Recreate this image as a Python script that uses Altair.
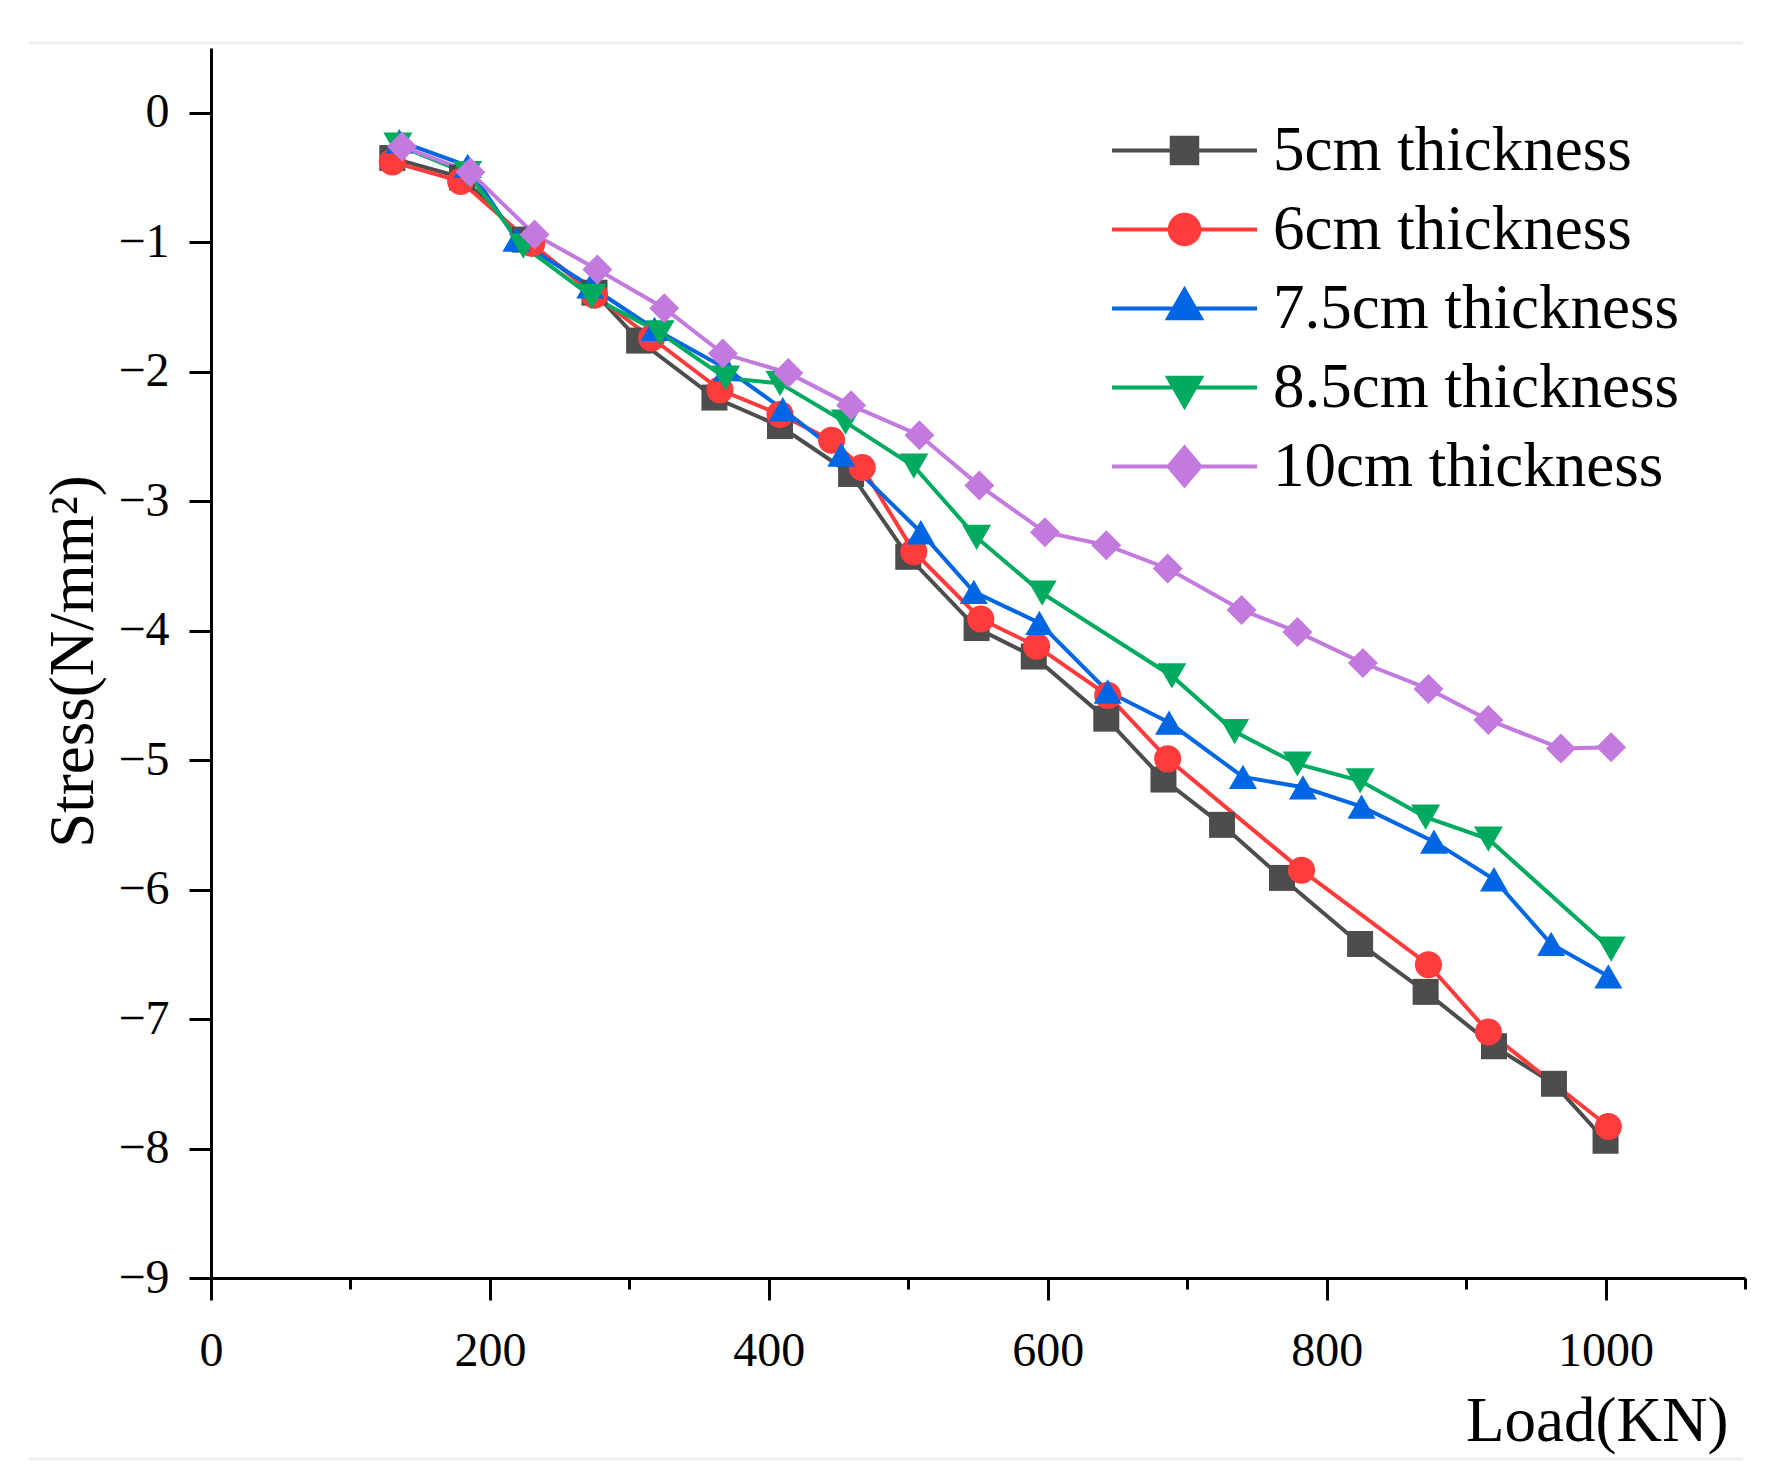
import altair as alt
import pandas as pd

series = ["5cm thickness", "6cm thickness", "7.5cm thickness", "8.5cm thickness", "10cm thickness"]
colors = ["#4d4d4d", "#ff3b3b", "#0066e3", "#00ab5f", "#c27adf"]
markers = ["square", "circle", "triangle-up", "triangle-down", "diamond"]
marker_sizes = [676, 900, 1089, 1089, 1225]

# legend symbols: a line segment with the marker on it
legend_paths = [
    "M-5,0H5M-0.88,-0.88H0.88V0.88H-0.88Z",
    "M-5,0H5M-1.02,0A1.02,1.02,0,1,1,1.02,0A1.02,1.02,0,1,1,-1.02,0Z",
    "M-5,0H5M0,-1.3L1.13,0.67H-1.13Z",
    "M-5,0H5M0,1.3L1.13,-0.67H-1.13Z",
    "M-5,0H5M0,-1.3L1.1,0L0,1.3L-1.1,0Z",
]

load_5 = [130, 180, 225, 275, 307, 361, 408, 459, 500, 549, 590, 642, 683, 725, 768, 824, 871, 920, 963, 1000]
stress_5 = [-0.35, -0.50, -0.98, -1.39, -1.76, -2.20, -2.42, -2.79, -3.43, -3.98, -4.20, -4.68, -5.15, -5.50,
            -5.91, -6.42, -6.79, -7.21, -7.50, -7.94]

load_6 = [130, 179, 230, 275, 316, 365, 408, 445, 467, 504, 552, 592, 643, 686, 782, 873, 916, 1002]
stress_6 = [-0.38, -0.53, -1.01, -1.41, -1.74, -2.14, -2.33, -2.53, -2.74, -3.39, -3.91, -4.12, -4.50, -4.99,
            -5.85, -6.58, -7.10, -7.83]

load_75 = [135, 184, 219, 272, 318, 370, 410, 452, 509, 547, 594, 643, 687, 740, 783, 825, 877, 920, 961, 1002]
stress_75 = [-0.22, -0.41, -0.98, -1.34, -1.67, -1.98, -2.29, -2.64, -3.24, -3.70, -3.94, -4.47, -4.71, -5.13,
             -5.21, -5.36, -5.63, -5.92, -6.42, -6.67]

load_85 = [134, 184, 224, 273, 322, 369, 408, 455, 504, 549, 596, 689, 734, 779, 824, 871, 916, 1004]
stress_85 = [-0.25, -0.47, -1.03, -1.42, -1.70, -2.05, -2.09, -2.39, -2.73, -3.28, -3.71, -4.35, -4.78, -5.03,
             -5.16, -5.44, -5.61, -6.46]

load_10 = [137, 186, 232, 277, 325, 367, 414, 459, 508, 551, 598, 642, 686, 739, 779, 826, 873, 916, 968, 1004]
stress_10 = [-0.26, -0.46, -0.94, -1.21, -1.51, -1.86, -2.01, -2.26, -2.49, -2.88, -3.24, -3.34, -3.52, -3.84,
             -4.01, -4.25, -4.45, -4.69, -4.91, -4.90]

x_ticks = list(range(0, 1101, 100))
y_ticks = [v / 2 for v in range(-18, 2)]

loads = [load_5, load_6, load_75, load_85, load_10]
stresses = [stress_5, stress_6, stress_75, stress_85, stress_10]
rows = []
for name, xs, ys in zip(series, loads, stresses):
    for i, (xv, yv) in enumerate(zip(xs, ys)):
        rows.append({"series": name, "load": xv, "stress": yv, "order": i})
df = pd.DataFrame(rows)

font = "Liberation Serif"

x_axis = alt.Axis(
    values=x_ticks,
    tickSize={"condition": {"test": "datum.value % 200 === 0", "value": 22}, "value": 11},
    format="d",
    labelExpr="datum.value % 200 === 0 ? datum.label : ''",
    labelFlush=False, labelOverlap=False, labelBound=False,
    labelBaseline="alphabetic", labelPadding=65,
    title="Load(KN)", titleX=1517, titleY=162, titleAlign="right", titleBaseline="alphabetic",
    grid=False,
)
y_axis = alt.Axis(
    values=y_ticks,
    tickSize={"condition": {"test": "datum.value % 1 === 0", "value": 22}, "value": 11},
    labelExpr="datum.value % 1 === 0 ? datum.label : ''",
    format="d",
    labelFlush=False, labelOverlap=False, labelBound=False,
    labelPadding=20,
    title="Stress(N/mm²)", titleX=-119, titleY=613, titleAngle=270, titleAlign="center",
    titleBaseline="alphabetic",
    grid=False,
)

x_enc = alt.X("load:Q", scale=alt.Scale(domain=[0, 1100], nice=False, zero=False), axis=x_axis)
y_enc = alt.Y("stress:Q", scale=alt.Scale(domain=[-9, 0.5], nice=False, zero=False), axis=y_axis)
color_scale = alt.Scale(domain=series, range=colors)

lines = alt.Chart(df).mark_line(strokeWidth=4).encode(
    x=x_enc, y=y_enc,
    color=alt.Color("series:N", scale=color_scale, legend=None),
    order="order:Q",
)

points = alt.Chart(df).mark_point(filled=True, opacity=1).encode(
    x=x_enc, y=y_enc,
    color=alt.Color("series:N", scale=color_scale, legend=None),
    shape=alt.Shape("series:N", scale=alt.Scale(domain=series, range=markers), legend=None),
    size=alt.Size("series:N", scale=alt.Scale(domain=series, range=marker_sizes), legend=None),
)

legend = alt.Legend(
    title=None, orient="none", legendX=942, legendY=71, padding=0,
    symbolSize=841, symbolStrokeWidth=4, labelOffset=57, rowPadding=15,
    labelFont=font, labelFontSize=63, labelColor="black", labelLimit=0,
)
legend_layer = alt.Chart(df).transform_filter("false").mark_point(filled=True, opacity=1).encode(
    x=x_enc, y=y_enc,
    fill=alt.Fill("series:N", scale=alt.Scale(domain=series, range=colors), legend=legend),
    stroke=alt.Stroke("series:N", scale=alt.Scale(domain=series, range=colors), legend=legend),
    shape=alt.Shape("series:N", scale=alt.Scale(domain=series, range=legend_paths), legend=legend),
)

borders = alt.Chart(pd.DataFrame({"k": [0]})).mark_rule(color="#f0f0f0", strokeWidth=3).encode(
    x=alt.value(-182), x2=alt.value(1532), y=alt.value(-5),
) + alt.Chart(pd.DataFrame({"k": [0]})).mark_rule(color="#f0f0f0", strokeWidth=3).encode(
    x=alt.value(-182), x2=alt.value(1532), y=alt.value(1411),
)

chart = alt.layer(borders, lines, points, legend_layer).resolve_scale(
    shape="independent", color="independent", fill="independent", stroke="independent"
).properties(
    width=1534, height=1230,
    autosize=alt.AutoSizeParams(type="none"),
    padding={"left": 203, "top": 40, "right": 30, "bottom": 190},
    background="white",
).configure_view(stroke=None).configure_axis(
    domainColor="black", domainWidth=3, tickColor="black", tickWidth=3,
    labelFont=font, labelFontSize=48, labelColor="black",
    titleFont=font, titleFontSize=63, titleColor="black", titleFontWeight="normal",
)

chart.save("out.html", embed_options={"renderer": "svg", "actions": False})
